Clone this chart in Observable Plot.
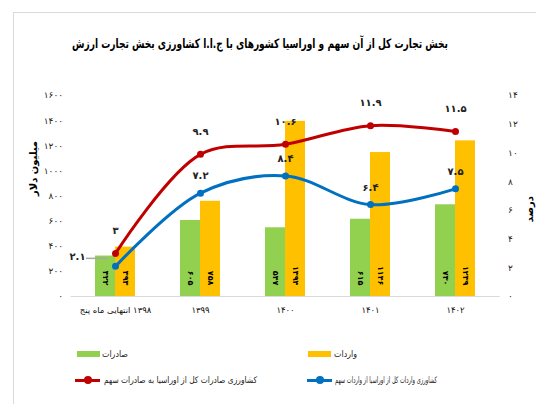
<!DOCTYPE html>
<html><head><meta charset="utf-8">
<script src="https://cdn.jsdelivr.net/npm/d3@7"></script>
<script src="https://cdn.jsdelivr.net/npm/@observablehq/plot@0.6"></script>
<style>
body{margin:0;background:#fff;font-family:"DejaVu Sans",sans-serif;}
#wrap{position:relative;width:536px;height:404px;overflow:hidden;background:#fff;}
#frame{position:absolute;left:13px;top:12px;width:600px;height:500px;border:1px solid #d9d9d9;box-sizing:border-box;}
.fit{position:absolute;white-space:nowrap;transform-origin:0 50%;color:#000;direction:ltr;}
#title{font-weight:bold;font-size:13px;}
.leg{font-size:9px;color:#222;}
.sw{position:absolute;}
#chart{position:absolute;left:0;top:80px;}
</style></head>
<body><div id="wrap"><div id="frame"></div>
<span id="title" class="fit" data-x="72" data-y="43" data-w="376"></span>
<div id="chart"></div>
<div id="legend"></div>
</div>
<script>
const categories = ["پنج ماه انتهایی ۱۳۹۸", "۱۳۹۹", "۱۴۰۰", "۱۴۰۱", "۱۴۰۲"];
const exportsVal = [322, 605, 547, 615, 730];
const importsVal = [393, 758, 1394, 1146, 1239];
const exportShare = [3, 9.9, 10.6, 11.9, 11.5];
const importShare = [2.1, 7.2, 8.4, 6.4, 7.5];
const leftTicks = [0, 200, 400, 600, 800, 1000, 1200, 1400, 1600];
const rightTicks = [0, 2, 4, 6, 8, 10, 12, 14];
const titleText = "ارزش تجارت بخش کشاورزی ج.ا.ا با کشورهای اوراسیا و سهم آن از کل تجارت بخش";
const leftTitle = "میلیون دلار";
const rightTitle = "درصد";
const seriesNames = ["صادرات", "واردات", "سهم صادرات به اوراسیا از کل صادرات کشاورزی", "سهم واردات از اوراسیا از کل واردات کشاورزی"];
const colors = {exp: "#92D050", imp: "#FFC000", es: "#C00000", is: "#0070C0"};

const fa = v => String(v).replace(/\d/g, d => "۰۱۲۳۴۵۶۷۸۹"[d]);
const LRM = String.fromCharCode(8206);
const ltrWords = s => LRM + s.split(" ").join(LRM + " " + LRM) + LRM;
const k = 1600 / 14;

const rows = categories.map((c, i) => ({cat: c, exp: exportsVal[i], imp: importsVal[i], es: exportShare[i], is: importShare[i]}));

const chart = Plot.plot({
  width: 536, height: 250,
  marginLeft: 70.6, marginRight: 36.4, marginTop: 15, marginBottom: 34,
  style: {fontFamily: "DejaVu Sans", background: "transparent", overflow: "visible"},
  x: {type: "band", domain: categories, paddingInner: 0.534, paddingOuter: 0.267},
  y: {domain: [0, 1600]},
  marks: [
    Plot.barY(rows, {x: "cat", y: "exp", fill: colors.exp, insetRight: 20, insetLeft: 0}),
    Plot.barY(rows, {x: "cat", y: "imp", fill: colors.imp, insetLeft: 20, insetRight: 0}),
    Plot.ruleY([0], {stroke: "#d9d9d9", strokeWidth: 1}),
    Plot.axisY({ticks: leftTicks, tickSize: 0, tickPadding: 8, tickFormat: fa, label: null, fontSize: 9, fill: "#222"}),
    Plot.axisY(rightTicks.map(v => v * k), {anchor: "right", tickSize: 0, tickPadding: 8, tickFormat: v => fa(Math.round(v / k)), label: null, fontSize: 9, fill: "#222"}),
    Plot.axisX({tickSize: 0, tickPadding: 10, label: null, tickFormat: ltrWords, fontSize: 8.5, fill: "#111", fontWeight: (d, i) => i === 0 ? "bold" : "normal"}),
    Plot.text(rows, {x: "cat", y: 0, text: d => fa(d.exp), rotate: 90, textAnchor: "end", dx: -10, dy: -11, fontSize: 8, fontWeight: "bold"}),
    Plot.text(rows, {x: "cat", y: 0, text: d => fa(d.imp), rotate: 90, textAnchor: "end", dx: 10, dy: -11, fontSize: 8, fontWeight: "bold"}),
    Plot.line(rows, {x: "cat", y: d => d.es * k, stroke: colors.es, strokeWidth: 3, curve: "catmull-rom"}),
    Plot.line(rows, {x: "cat", y: d => d.is * k, stroke: colors.is, strokeWidth: 3, curve: "catmull-rom"}),
    Plot.dot(rows, {x: "cat", y: d => d.es * k, r: 3.5, fill: colors.es}),
    Plot.dot(rows, {x: "cat", y: d => d.is * k, r: 3.5, fill: colors.is}),
    Plot.text(rows, {x: "cat", y: d => d.es * k, text: d => fa(d.es), dy: -23, fontSize: 10, fontWeight: "bold", fill: "#222"}),
    Plot.text(rows.slice(1), {x: "cat", y: d => d.is * k, text: d => fa(d.is), dy: -17, fontSize: 10, fontWeight: "bold", fill: "#222"}),
    Plot.text(rows.slice(0, 1), {x: "cat", y: d => d.is * k, text: d => fa(d.is), dx: -38, dy: -10, fontSize: 10, fontWeight: "bold", fill: "#222"}),
    Plot.tickY(rows.slice(0, 1), {x: "cat", y: d => d.is * k, dx: -20, dy: -8, insetLeft: 11, insetRight: 7, stroke: "#a6a6a6", strokeWidth: 1.5}),
    Plot.text([leftTitle], {frameAnchor: "left", dx: -37, rotate: -90, text: d => d, fontSize: 10, fontWeight: "bold"}),
    Plot.text([rightTitle], {frameAnchor: "right", dx: 30, rotate: -90, text: d => d, fontSize: 10, fontWeight: "bold"})
  ]
});
document.getElementById("chart").appendChild(chart);

// title
document.getElementById("title").textContent = ltrWords(titleText);

// legend
const legend = document.getElementById("legend");
const items = [
  {name: seriesNames[0], color: colors.exp, type: "bar", sx: 77, y: 354, tx: 102, tw: 26},
  {name: seriesNames[1], color: colors.imp, type: "bar", sx: 308, y: 354, tx: 334, tw: 23},
  {name: seriesNames[2], color: colors.es, type: "line", sx: 75, y: 380, tx: 104, tw: 153},
  {name: seriesNames[3], color: colors.is, type: "line", sx: 307, y: 380, tx: 335, tw: 102}
];
for (const it of items) {
  if (it.type === "bar") {
    const s = document.createElement("div");
    s.className = "sw";
    Object.assign(s.style, {left: it.sx + "px", top: (it.y - 3) + "px", width: "23px", height: "6px", background: it.color});
    legend.appendChild(s);
  } else {
    const s = document.createElement("div");
    s.className = "sw";
    Object.assign(s.style, {left: it.sx + "px", top: (it.y - 1.5) + "px", width: "25px", height: "3px", background: it.color});
    legend.appendChild(s);
    const m = document.createElement("div");
    m.className = "sw";
    Object.assign(m.style, {left: (it.sx + 9) + "px", top: (it.y - 4) + "px", width: "8px", height: "8px", borderRadius: "4px", background: it.color});
    legend.appendChild(m);
  }
  const t = document.createElement("span");
  t.className = "fit leg";
  t.textContent = ltrWords(it.name);
  t.dataset.x = it.tx; t.dataset.y = it.y; t.dataset.w = it.tw;
  legend.appendChild(t);
}
// fit html text widths
document.querySelectorAll(".fit").forEach(el => {
  const r = el.getBoundingClientRect();
  const sx = (+el.dataset.w) / r.width;
  el.style.left = el.dataset.x + "px";
  el.style.top = (+el.dataset.y - r.height / 2) + "px";
  el.style.transform = `scaleX(${sx})`;
});
</script>
</body></html>
